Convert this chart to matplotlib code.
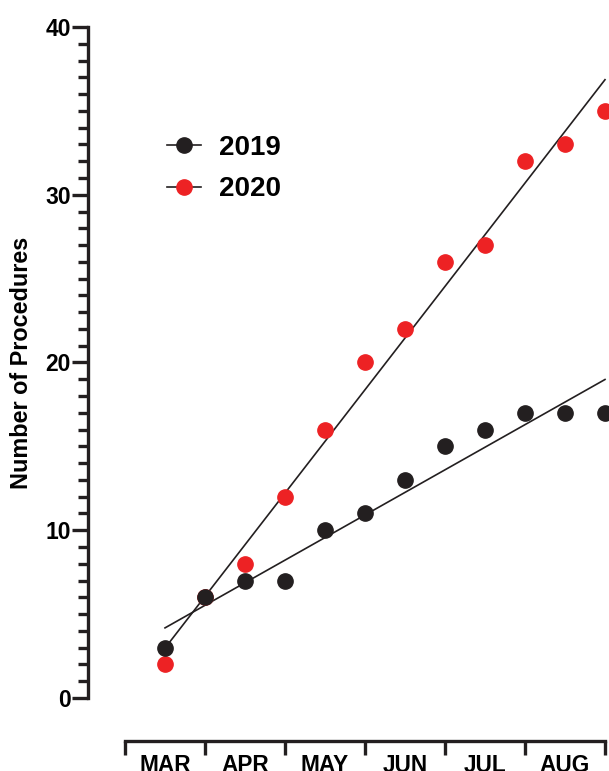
import numpy as np
import matplotlib.pyplot as plt
from matplotlib.lines import Line2D
from matplotlib.ticker import MultipleLocator, FixedLocator

plt.rcParams['font.family'] = ['Liberation Sans', 'DejaVu Sans']
plt.rcParams['font.weight'] = 'bold'

months = ['MAR', 'APR', 'MAY', 'JUN', 'JUL', 'AUG']
# two counts per month (first and second half)
procedures_2019 = [3, 6, 7, 7, 10, 11, 13, 15, 16, 17, 17, 17]
procedures_2020 = [2, 6, 8, 12, 16, 20, 22, 26, 27, 32, 33, 35]

red = '#ED2224'
black = '#231F20'

fig = plt.figure(figsize=(6.09, 7.71), dpi=100)
ax = fig.add_axes([88 / 609, 1 - 698 / 771, 1 - 88 / 609, (698 - 27) / 771])

x = np.arange(len(procedures_2019))

# linear fits
for y in (procedures_2019, procedures_2020):
    m, b = np.polyfit(x, y, 1)
    ax.plot([x[0], x[-1]], [m * x[0] + b, m * x[-1] + b], color=black, lw=1.2, zorder=2, clip_on=False)

ax.plot(x, procedures_2020, 'o', color=red, ms=11, mec=red, zorder=3, clip_on=False)
ax.plot(x, procedures_2019, 'o', color=black, ms=11, mec=black, zorder=4, clip_on=False)

ax.set_xlim(-1.925, 11.1)
ax.set_ylim(0, 40)

ax.spines['top'].set_visible(False)
ax.spines['right'].set_visible(False)
ax.spines['left'].set_linewidth(2.4)
ax.spines['left'].set_color(black)
ax.spines['bottom'].set_linewidth(2.4)
ax.spines['bottom'].set_color(black)
ax.spines['bottom'].set_position(('outward', 31))
ax.spines['bottom'].set_bounds(-1, 11)

ax.yaxis.set_major_locator(MultipleLocator(10))
ax.yaxis.set_minor_locator(MultipleLocator(1))
ax.tick_params(axis='y', which='major', length=11.5, width=2.4, color=black, labelsize=16.5, pad=1)
ax.tick_params(axis='y', which='minor', length=7, width=2.4, color=black)
ax.get_yticklabels()[0].set_fontweight('normal')

# month boundaries as major ticks, month names centred on minor ticks
ax.xaxis.set_major_locator(FixedLocator(np.arange(-1, 12, 2)))
ax.xaxis.set_major_formatter(plt.NullFormatter())
ax.xaxis.set_minor_locator(FixedLocator(np.arange(0, 12, 2)))
ax.set_xticklabels(months, minor=True)
ax.tick_params(axis='x', which='major', length=10, width=2.4, color=black, direction='out')
ax.tick_params(axis='x', which='minor', length=0, labelsize=16.3, pad=9)

ax.set_ylabel('Number of Procedures', fontsize=16.8, fontweight='bold', labelpad=9)

handles = [
    Line2D([], [], color=black, lw=1.2, marker='o', ms=11, mfc=black, mec=black),
    Line2D([], [], color=black, lw=1.2, marker='o', ms=11, mfc=red, mec=red),
]
ax.legend(handles, ['2019', '2020'], loc='upper left', bbox_to_anchor=(0.104, 0.876),
          frameon=False, handlelength=1.22, handletextpad=0.65, labelspacing=0.55,
          prop={'weight': 'bold', 'size': 20})

plt.savefig('out.png', dpi=100)
